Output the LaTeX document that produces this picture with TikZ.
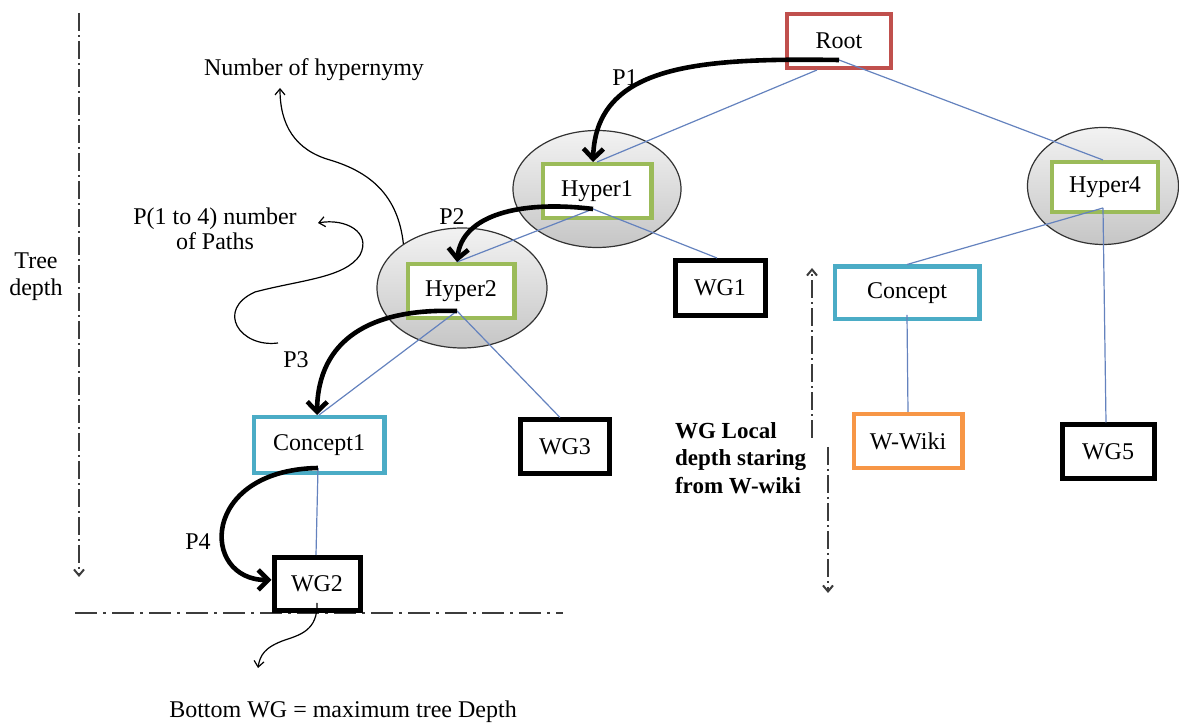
\documentclass[tikz,border=0pt]{standalone}
\usepackage{fontspec}
\setmainfont{Liberation Serif}
\usetikzlibrary{arrows.meta,shapes.geometric}
\definecolor{rootred}{RGB}{192,80,77}
\definecolor{hgreen}{RGB}{155,187,89}
\definecolor{cteal}{RGB}{75,172,198}
\definecolor{wor}{RGB}{247,150,70}
\definecolor{lblue}{RGB}{100,130,190}
\definecolor{dd}{RGB}{60,60,60}
\begin{document}
\begin{tikzpicture}[x=0.5pt,y=-0.5pt,
  font=\fontsize{12}{13.5}\selectfont,
  box/.style={draw, fill=white, line width=2.2pt, inner sep=0pt},
  wgbox/.style={box, draw=black, line width=2.5pt},
  hyp/.style={ellipse, draw=black!80, line width=0.6pt, top color=gray!10, bottom color=gray!45, inner sep=0pt},
  link/.style={draw=lblue, line width=0.6pt},
  patharrow/.style={line width=2.3pt, -{Straight Barb[length=5pt,width=10pt]}},
  note/.style={line width=0.6pt, -{Straight Barb[length=3pt,width=5pt]}},
  dashdotv/.style={draw=dd, line width=1pt, dash pattern=on 9pt off 2pt on 1pt off 2pt, -{Straight Barb[length=3pt,width=5pt]}},
  dashdoth/.style={draw=dd, line width=1pt, dash pattern=on 11pt off 3pt on 1.5pt off 3pt},
  ]
\useasboundingbox (0,0) rectangle (1179,726);

% free ends
\coordinate (tdA) at (79,13);
\coordinate (tdB) at (79,577);
\coordinate (hlA) at (75,613);
\coordinate (hlB) at (563,613);
\coordinate (wlA) at (812,438);
\coordinate (wlB) at (812,268);
\coordinate (wlC) at (828,447);
\coordinate (wlD) at (828,593);
\coordinate (nhtip) at (280,88);
\coordinate (cs) at (278,343);
\coordinate (ct) at (318,223);
\coordinate (bt) at (258,668);

% dash-dot guides
\draw[dashdotv] (tdA) -- (tdB);
\draw[dashdoth] (hlA) -- (hlB);
\draw[dashdotv] (wlA) -- (wlB);
\draw[dashdotv] (wlC) -- (wlD);

% ellipses
\node[hyp, minimum width=84pt, minimum height=58.5pt] (h1e) at (597,189) {};
\node[hyp, minimum width=85pt, minimum height=60pt] (h2e) at (462,288) {};
\node[hyp, minimum width=75.5pt, minimum height=58.5pt] (h4e) at (1103,186) {};

% boxes
\node[box, draw=rootred, minimum width=51.8pt, minimum height=26.8pt] (root) at (839,41) {Root};
\node[box, draw=hgreen, minimum width=54.3pt, minimum height=26.8pt] (h1) at (597,191) {Hyper1};
\node[box, draw=hgreen, minimum width=52.8pt, minimum height=24.8pt] (h4) at (1105,187) {Hyper4};
\node[box, draw=hgreen, minimum width=53.3pt, minimum height=26.8pt] (h2) at (461,291) {Hyper2};
\node[wgbox, minimum width=45pt, minimum height=27.5pt] (wg1) at (720,288) {WG1};
\node[box, draw=cteal, minimum width=72.3pt, minimum height=26.3pt] (con) at (907,293) {Concept};
\node[box, draw=wor, minimum width=54.3pt, minimum height=26.8pt] (wiki) at (908,441) {W-Wiki};
\node[wgbox, minimum width=46pt, minimum height=27pt] (wg5) at (1108,452) {WG5};
\node[box, draw=cteal, minimum width=65.3pt, minimum height=27.8pt] (c1) at (319,445) {Concept1};
\node[wgbox, minimum width=44.5pt, minimum height=27pt] (wg3) at (565,447) {WG3};
\node[wgbox, minimum width=43pt, minimum height=26.5pt] (wg2) at (317,584) {WG2};

% ports
\coordinate (rootp) at ([yshift=-9.5pt]root.center);
\coordinate (rootq) at ([xshift=-11pt]root.south);
\coordinate (h1p) at ([shift={(-2pt,-9pt)}]h1.center);
\coordinate (h2p) at ([shift={(-2pt,-10pt)}]h2.center);
\coordinate (h4p) at ([shift={(-1pt,-10.5pt)}]h4.center);
\coordinate (conp) at ([yshift=-11pt]con.center);
\coordinate (c1p) at ([shift={(-0.5pt,-11.5pt)}]c1.center);
\coordinate (wg2p) at ([yshift=-9.5pt]wg2.center);

% tree links
\draw[link] (rootq) -- (h1.north);
\draw[link] (rootp) -- ([xshift=-1pt]h4.north);
\draw[link] (h1p) -- ([xshift=-2pt]h2.north);
\draw[link] (h1p) -- ([xshift=-1.5pt]wg1.north);
\draw[link] (h2p) -- (c1.north);
\draw[link] (h2p) -- ([xshift=-2.5pt]wg3.north);
\draw[link] (h4p) -- (con.north);
\draw[link] (h4p) -- ([xshift=-1pt]wg5.north);
\draw[link] (conp) -- (wiki.north);
\draw[link] (c1p) -- ([xshift=-0.5pt]wg2.north);

% paths P1..P4
\draw[patharrow] (rootp) .. controls (700,58) and (596,64) .. ([xshift=-2pt]h1.north);
\draw[patharrow] (h1p) .. controls (520,200) and (462,215) .. ([xshift=-2pt]h2.north);
\draw[patharrow] (h2p) .. controls (370,308) and (318,340) .. ([xshift=-1pt]c1.north);
\draw[patharrow] (c1p) .. controls (200,470) and (200,580) .. ([yshift=2pt]wg2.west);

% labels
\node (p1) at (625,78) {P1};
\node (p2) at (452,217) {P2};
\node (p3) at (296,360) {P3};
\node (p4) at (198,542) {P4};
\node (nh) at (314,70) {Number of hypernymy};
\node[align=center, font=\fontsize{12}{12.5}\selectfont] (np) at (215,229) {P(1 to 4) number\\of Paths};
\node[align=center] (td) at (36,277) {Tree\\depth};
\node[anchor=west, align=left, font=\fontsize{11.5}{13.75}\selectfont\bfseries] (wgl) at (668,458) {WG Local\\depth staring\\from W-wiki};
\node (bot) at (343,712) {Bottom WG = maximum tree Depth};

% thin annotation arrows
\draw[note] (h2e.143) .. controls (398,195) and (370,172) .. (330,160) .. controls (295,150) and (280,125) .. (nhtip);
\draw[note] (cs) .. controls (240,348) and (215,310) .. (255,292) .. controls (300,280) and (345,278) .. (360,255) .. controls (372,232) and (345,218) .. (ct);
\draw[note] (wg2p) .. controls (318,630) and (300,635) .. (285,640) .. controls (265,647) and (260,655) .. (bt);
\end{tikzpicture}
\end{document}
